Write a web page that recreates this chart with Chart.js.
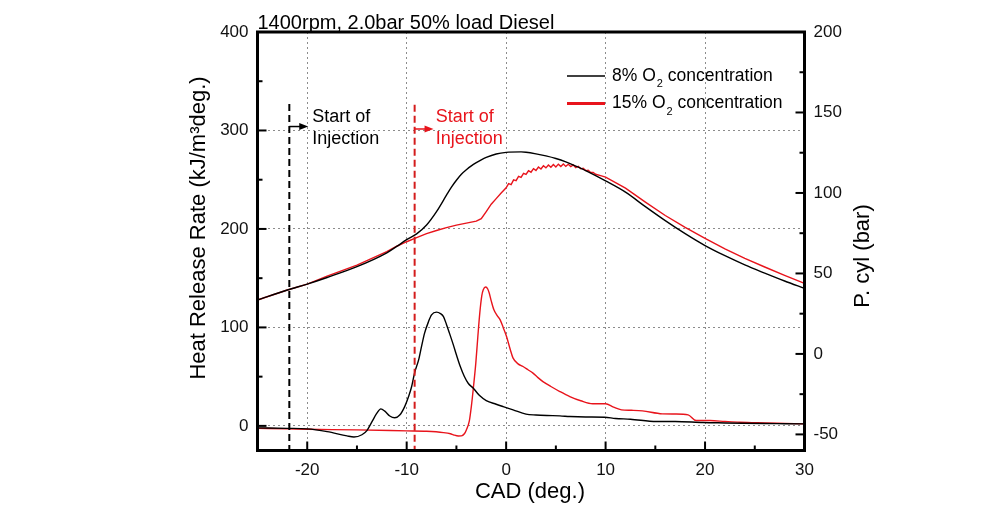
<!DOCTYPE html>
<html>
<head>
<meta charset="utf-8">
<title>Heat release rate and cylinder pressure</title>
<script src="https://cdn.jsdelivr.net/npm/chart.js@4.4.0/dist/chart.umd.min.js"></script>
<style>
    body { margin: 0; background: #fff; }
    #wrap { position: relative; width: 1000px; height: 515px; }
</style>
</head>
<body>
<div id="wrap"><canvas id="hrrChart"></canvas></div>
<script>
// Heat release rate, 8% O2 (kJ/m3deg.)
const cadHrr8 = [-25, -22, -20, -18, -16, -15.3, -14.5, -14, -13.5, -13, -12.6, -12.2, -11.7, -11.2, -10.7,
    -10.2, -9.8, -9.5, -9.2, -8.8, -8.5, -8.2, -7.8, -7.5, -7.0, -6.6, -6.3, -6.0, -5.7, -5.3, -5.0, -4.6,
    -4.2, -3.8, -3.3, -2.7, -2.0, -1, -0.3, 0.7, 2, 3, 4.1, 5.4, 6.4, 8, 9.9, 11, 12.5, 15.1, 17, 19.8,
    22, 23.8, 26, 28, 30];
const hrr8 = [-2, -2.5, -3, -5.8, -10.2, -11.3, -9, -4.8, 4, 12.9, 17.3, 15, 10, 8.2, 11,
    19.6, 30, 40, 54, 67, 81, 94.2, 106, 112.8, 115.5, 114, 111, 103, 94.2, 82, 72.2, 60,
    50.1, 43, 38.3, 31, 25.7, 22, 19.6, 16.3, 11.9, 11, 10.5, 10.2, 9.5, 9, 8.8, 7.5, 6.8, 4.4, 4.5, 3.4,
    3, 2.7, 2.4, 2.2, 2];

// Heat release rate, 15% O2
const cadHrr15 = [-25, -22, -20, -15, -10, -8, -6.3, -5.6, -5.3, -4.8, -4.5, -4.2, -4.0, -3.7, -3.5,
    -3.3, -3.05, -2.85, -2.65, -2.45, -2.3, -2.05, -1.85, -1.7, -1.5, -1.23, -0.9, -0.6, -0.3, 0.04,
    0.4, 0.7, 1.2, 1.7, 2.2, 2.7, 3.2, 3.7, 4.5, 5.4, 6.4, 7.5, 8.7, 10, 10.8, 11.6, 12.6, 13.7, 15.7,
    17, 18.3, 19.1, 20.5, 22, 23.5, 26, 28, 30];
const hrr15 = [-2.5, -3, -3.4, -4.1, -5.1, -5.5, -6.8, -8, -9.1, -10.3, -10.2, -8, -4.1, 5, 19.6,
    38, 63.7, 90, 114.5, 132, 138.2, 141, 139, 134.9, 127, 117.9, 112, 107.7, 100, 90.8,
    78, 68.8, 63, 60.3, 57, 53.6, 49, 45, 40, 34.9, 29.8, 25.5, 22.4, 22.4, 19, 16.3, 15.8, 15.2, 12.2,
    12, 11.2, 5.4, 5.4, 4.5, 3.7, 3, 2.5, 2];

// Cylinder pressure, 8% O2 (bar)
const cadP8 = [-25, -22, -20, -18, -15, -12, -11, -10, -9, -8, -7, -6, -5.5, -5, -4.5, -4, -3.5, -3, -2.5, -2,
    -1, 0, 1.5, 2, 3, 4, 5, 6, 7, 8, 10, 12, 14, 16, 18, 20, 22, 24, 26, 28, 30];
const p8 = [33.5, 39.7, 43.4, 47.5, 54.2, 62.8, 66.8, 71, 74.6, 80.1, 88.4, 98.6, 103.6, 107.9, 111.6, 114.4, 116.8, 118.8, 120.6, 122.1,
    124.2, 125.2, 125.5, 125.3, 124.3, 123, 121.4, 119.3, 116.7, 113.9, 107.5, 100.5, 91.5, 82.8, 74.7, 67.3, 61, 55.3, 50.2, 45.3, 40.7];

// Cylinder pressure, 15% O2 (the ripple after ignition is read point by point)
const cadP15 = [-25, -22, -20, -18, -15, -12, -11, -10, -9, -8, -7, -6, -5, -4, -3, -2.5, -2, -1.5, -1, -0.5,
    0, 0.25, 0.5, 0.75, 1, 1.25, 1.5, 1.75, 2, 2.25, 2.5, 2.75, 3, 3.25, 3.5, 3.75, 4, 4.25, 4.5, 4.75,
    5, 5.25, 5.5, 5.75, 6, 6.25, 6.5, 6.75, 7, 7.25, 7.5, 7.75, 8, 8.25, 8.5, 8.75, 9, 9.5,
    10, 12, 14, 16, 18, 20, 22, 24, 26, 28, 30];
const p15 = [33.5, 39.7, 43.4, 48.3, 55.2, 63.6, 66.9, 69.7, 72.3, 74.7, 76.7, 78.5, 80, 81.3, 82.5, 84, 88.4, 93, 96.5, 100,
    103.2, 105.8, 105.2, 108.1, 107.7, 110.3, 109.7, 112.2, 111.5, 113.8, 112.9, 115.1, 114.0, 116.1, 114.9, 116.9, 115.6, 117.4, 116.0, 117.7,
    116.2, 117.9, 116.4, 118.0, 116.5, 117.8, 116.4, 117.4, 115.8, 116.6, 115.0, 115.4, 113.9, 114.1, 112.7, 112.7, 111.6, 110.8,
    109.8, 103, 94.3, 86, 78.6, 71.8, 65.3, 59.4, 54, 48.8, 43.8];

// Start of injection (CAD) and top of the marker line (HRR axis)
const injectionCad = [-21.8, -9.2];
const injectionTop = [327, 326];

// Axis ticks
const xMajor = [-20, -10, 0, 10, 20, 30];
const xMinor = [-15, -5, 5, 15, 25];
const hrrMajor = [0, 100, 200, 300, 400];
const hrrMinor = [50, 150, 250, 350];
const pMajor = [-50, 0, 50, 100, 150, 200];
const pMinor = [-25, 25, 75, 125, 175];

const BLACK = '#000000';
const RED = '#e8141c';
const DASH_RED = '#d41c1c';
const FONT = "'Liberation Sans', Arial, sans-serif";

function toPoints(xs, ys) {
    return xs.map((x, i) => ({ x: x, y: ys[i] }));
}

function tickList(major, minor) {
    return major.concat(minor).sort((a, b) => a - b).map(v => ({ value: v }));
}

function majorGrid(major, lo, hi) {
    return ctx => {
        const v = ctx.tick ? ctx.tick.value : null;
        return (major.includes(v) && v !== lo && v !== hi) ? '#8c8c8c' : 'rgba(0,0,0,0)';
    };
}

// Frame, inward ticks, titles, legend and injection arrows
const decorations = {
    id: 'decorations',
    afterDatasetsDraw(chart) {
        const { ctx, chartArea: a, scales } = chart;
        ctx.save();
        ctx.strokeStyle = BLACK;
        ctx.lineWidth = 2;

        const tick = (x1, y1, x2, y2) => {
            ctx.beginPath();
            ctx.moveTo(x1, y1);
            ctx.lineTo(x2, y2);
            ctx.stroke();
        };
        xMajor.concat(xMinor).forEach(v => {
            const px = scales.x.getPixelForValue(v);
            tick(px, a.bottom, px, a.bottom - (xMajor.includes(v) ? 9 : 5));
        });
        hrrMajor.concat(hrrMinor).forEach(v => {
            const py = scales.yHrr.getPixelForValue(v);
            tick(a.left, py, a.left + (hrrMajor.includes(v) ? 9 : 5), py);
        });
        pMajor.concat(pMinor).forEach(v => {
            const py = scales.yP.getPixelForValue(v);
            tick(a.right, py, a.right - (pMajor.includes(v) ? 9 : 5), py);
        });

        ctx.lineWidth = 3;
        ctx.strokeRect(a.left, a.top, a.right - a.left, a.bottom - a.top);

        // injection arrows and labels
        const labelColors = [BLACK, RED];
        const arrowY = [304, 301.5];
        const textGap = [23, 21];
        injectionCad.forEach((cad, i) => {
            const x0 = scales.x.getPixelForValue(cad);
            const x1 = scales.x.getPixelForValue(cad + 1.9);
            const y = scales.yHrr.getPixelForValue(arrowY[i]);
            ctx.strokeStyle = labelColors[i];
            ctx.fillStyle = labelColors[i];
            ctx.lineWidth = 1.5;
            tick(x0, y, x1 - 6, y);
            ctx.beginPath();
            ctx.moveTo(x1, y);
            ctx.lineTo(x1 - 9, y - 3.5);
            ctx.lineTo(x1 - 9, y + 3.5);
            ctx.closePath();
            ctx.fill();

            ctx.font = '18px ' + FONT;
            ctx.textAlign = 'left';
            ctx.textBaseline = 'middle';
            const tx = x0 + textGap[i];
            const ty = scales.yHrr.getPixelForValue(304);
            ctx.fillText('Start of', tx, ty - 10);
            ctx.fillText('Injection', tx, ty + 12);
        });

        // legend
        const legend = [
            { label: '8%', color: BLACK, width: 1.5 },
            { label: '15%', color: RED, width: 3 }
        ];
        legend.forEach((item, i) => {
            const y = 76 + i * 27.5;
            ctx.strokeStyle = item.color;
            ctx.lineWidth = item.width;
            tick(567, y, 605, y);
            ctx.fillStyle = BLACK;
            ctx.font = '17.5px ' + FONT;
            ctx.textBaseline = 'middle';
            let x = 612;
            const head = item.label + ' O';
            ctx.fillText(head, x, y);
            x += ctx.measureText(head).width;
            ctx.font = '11px ' + FONT;
            ctx.fillText('2', x + 1, y + 8);
            x += ctx.measureText('2').width + 1;
            ctx.font = '17.5px ' + FONT;
            ctx.fillText(' concentration', x, y);
        });

        // chart title
        ctx.fillStyle = BLACK;
        ctx.font = '20px ' + FONT;
        ctx.textBaseline = 'alphabetic';
        ctx.fillText('1400rpm, 2.0bar 50% load Diesel', a.left, 29);

        // axis titles
        ctx.font = '22px ' + FONT;
        ctx.textAlign = 'center';
        ctx.textBaseline = 'middle';
        ctx.fillText('CAD (deg.)', (a.left + a.right) / 2 - 1, 492);

        ctx.save();
        ctx.translate(199, 228);
        ctx.rotate(-Math.PI / 2);
        ctx.fillText('Heat Release Rate (kJ/m\u00B3deg.)', 0, 0);
        ctx.restore();

        ctx.save();
        ctx.translate(863, 256);
        ctx.rotate(-Math.PI / 2);
        ctx.fillText('P. cyl (bar)', 0, 0);
        ctx.restore();

        ctx.restore();
    }
};

const tickFont = { family: FONT, size: 17 };

new Chart(document.getElementById('hrrChart'), {
    type: 'line',
    data: {
        datasets: [
            {
                label: 'SOI 8%',
                data: [{ x: injectionCad[0], y: injectionTop[0] }, { x: injectionCad[0], y: -25 }],
                yAxisID: 'yHrr',
                borderColor: BLACK,
                borderWidth: 2,
                borderDash: [7, 4]
            },
            {
                label: 'SOI 15%',
                data: [{ x: injectionCad[1], y: injectionTop[1] }, { x: injectionCad[1], y: -25 }],
                yAxisID: 'yHrr',
                borderColor: DASH_RED,
                borderWidth: 2,
                borderDash: [7, 4]
            },
            {
                label: 'HRR 8% O2',
                data: toPoints(cadHrr8, hrr8),
                yAxisID: 'yHrr',
                borderColor: BLACK,
                borderWidth: 1.4,
                cubicInterpolationMode: 'monotone'
            },
            {
                label: 'HRR 15% O2',
                data: toPoints(cadHrr15, hrr15),
                yAxisID: 'yHrr',
                borderColor: RED,
                borderWidth: 1.4,
                cubicInterpolationMode: 'monotone'
            },
            {
                label: 'P 8% O2',
                data: toPoints(cadP8, p8),
                yAxisID: 'yP',
                borderColor: BLACK,
                borderWidth: 1.4,
                cubicInterpolationMode: 'monotone'
            },
            {
                label: 'P 15% O2',
                data: toPoints(cadP15, p15),
                yAxisID: 'yP',
                borderColor: RED,
                borderWidth: 1.4,
                tension: 0
            }
        ]
    },
    options: {
        responsive: true,
        maintainAspectRatio: false,
        animation: false,
        layout: { padding: { top: 32, left: 0, right: 0, bottom: 0 } },
        elements: { point: { radius: 0 } },
        plugins: {
            legend: { display: false },
            tooltip: { enabled: false }
        },
        scales: {
            x: {
                type: 'linear',
                min: -25,
                max: 30,
                afterBuildTicks: s => { s.ticks = tickList(xMajor, xMinor); },
                afterFit: s => { s.height = 64.5; },
                ticks: {
                    autoSkip: false,
                    maxRotation: 0,
                    padding: 10,
                    color: '#111',
                    font: tickFont,
                    callback: v => (xMajor.includes(v) ? String(v) : '')
                },
                grid: { color: majorGrid(xMajor, -25, 30), lineWidth: 1, drawTicks: false },
                border: { display: false, dash: [2, 3] }
            },
            yHrr: {
                type: 'linear',
                position: 'left',
                min: -25,
                max: 400,
                afterBuildTicks: s => { s.ticks = tickList(hrrMajor, hrrMinor); },
                afterFit: s => { s.width = 257.5; },
                ticks: {
                    autoSkip: false,
                    padding: 9,
                    color: '#111',
                    font: tickFont,
                    callback: v => (hrrMajor.includes(v) ? String(v) : '')
                },
                grid: { color: majorGrid(hrrMajor, -25, 400), lineWidth: 1, drawTicks: false },
                border: { display: false, dash: [2, 3] }
            },
            yP: {
                type: 'linear',
                position: 'right',
                min: -60,
                max: 200,
                afterBuildTicks: s => { s.ticks = tickList(pMajor, pMinor); },
                afterFit: s => { s.width = 195.5; },
                ticks: {
                    autoSkip: false,
                    padding: 9,
                    color: '#111',
                    font: tickFont,
                    callback: v => (pMajor.includes(v) ? String(v) : '')
                },
                grid: { display: false, drawTicks: false },
                border: { display: false }
            }
        }
    },
    plugins: [decorations]
});
</script>
</body>
</html>
